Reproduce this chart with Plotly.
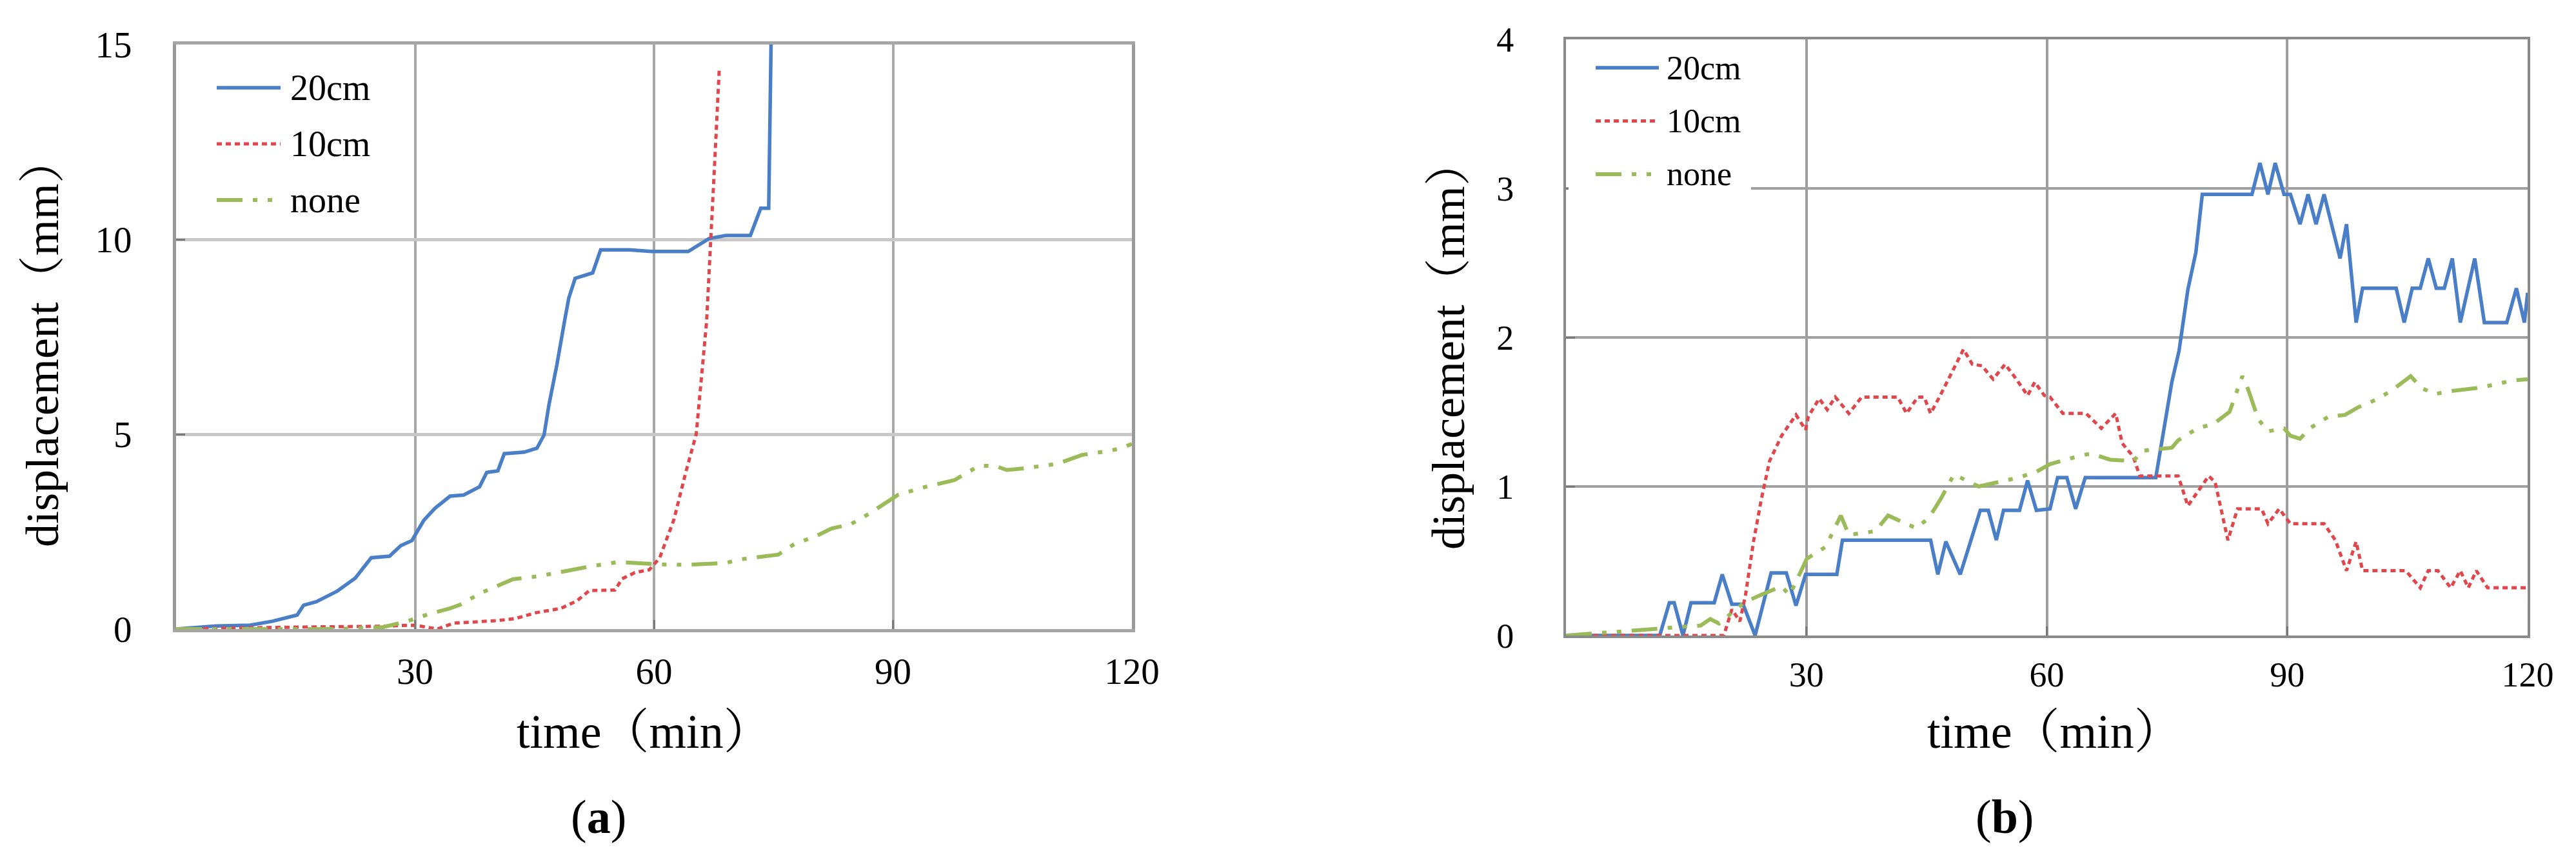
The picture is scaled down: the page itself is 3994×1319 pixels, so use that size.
import plotly.graph_objects as go

# ---------------- data: panel (a) ----------------
t_a_20 = [0, 5, 9.3, 12.1, 15.2, 16.0, 17.6, 20.2, 22.5, 24.5, 26.8, 28.2, 29.6, 31.1, 32.5,
          34.4, 36.1, 38.1, 39.0, 40.4, 41.2, 43.7, 45.3, 46.2, 46.8, 47.8, 48.8, 49.3,
          50.1, 52.3, 53.3, 56.9, 59.7, 64.3, 66.9, 69.0, 72.1, 73.4, 74.4, 74.7, 74.8]
v_a_20 = [0, 0.08, 0.1, 0.2, 0.36, 0.61, 0.7, 0.97, 1.31, 1.83, 1.87, 2.14, 2.27, 2.79, 3.1,
          3.41, 3.44, 3.65, 4.02, 4.06, 4.5, 4.54, 4.64, 4.98, 5.74, 6.77, 7.94, 8.49,
          9.0, 9.14, 9.73, 9.73, 9.69, 9.69, 10.02, 10.1, 10.1, 10.8, 10.8, 15.0, 16.5]

t_a_10 = [0, 8, 15, 25, 30, 32.8, 34.8, 40.5, 42.6, 45.2, 48.3, 50.3, 51.9, 55.1, 56.0,
          57.6, 59.4, 60.7, 62.5, 64.0, 65.3, 66.6, 67.2, 67.7, 68.2]
v_a_10 = [0, 0.03, 0.05, 0.07, 0.1, 0.0, 0.15, 0.22, 0.27, 0.42, 0.53, 0.72, 0.99, 1.0, 1.29,
          1.45, 1.52, 1.82, 2.81, 4.03, 5.0, 7.88, 10.1, 12.3, 14.4]

t_a_none = [0, 20, 26, 29, 31.8, 34.4, 35.7, 38.4, 42.3, 45.3, 49.0, 52.3, 55.5, 60.7, 63.8,
            68.9, 70.9, 75.6, 77.6, 80.3, 82.3, 84.7, 87.0, 90.6, 93.7, 97.7, 100.8,
            102.8, 104.3, 106.7, 110.6, 113.8, 116.5, 118.5, 120]
v_a_none = [0, 0, 0.05, 0.2, 0.39, 0.53, 0.63, 0.94, 1.28, 1.35, 1.49, 1.62, 1.72, 1.66, 1.65,
            1.69, 1.79, 1.91, 2.18, 2.38, 2.58, 2.69, 2.96, 3.44, 3.63, 3.82, 4.19,
            4.19, 4.08, 4.13, 4.24, 4.47, 4.55, 4.63, 4.75]

# ---------------- data: panel (b) ----------------
t_b_20 = [0, 11.7, 12.9, 13.5, 14.6, 15.6, 18.5, 19.5, 20.7, 22.1, 23.6, 25.6, 27.5, 28.7,
          29.9, 33.8, 34.5, 45.5, 46.4, 47.4, 49.2, 51.7, 52.7, 53.7, 54.6, 56.6, 57.6,
          58.7, 60.4, 61.35, 62.5, 63.6, 64.8, 73.6, 75.6, 76.5, 77.6, 78.6, 79.4, 85.6,
          86.6, 87.6, 88.5, 89.6, 90.4, 91.6, 92.6, 93.6, 94.6, 96.6, 97.4, 98.6, 99.4,
          103.6, 104.6, 105.6, 106.6, 107.6, 108.6, 109.6, 110.6, 111.6, 113.4, 114.6,
          117.4, 118.6, 119.6, 120]
v_b_20 = [0, 0, 0.22, 0.22, 0, 0.22, 0.22, 0.41, 0.21, 0.21, 0, 0.42, 0.42, 0.2,
          0.41, 0.41, 0.64, 0.64, 0.41, 0.63, 0.41, 0.84, 0.84, 0.64, 0.84, 0.84, 1.04,
          0.84, 0.85, 1.06, 1.06, 0.85, 1.06, 1.06, 1.70, 1.91, 2.32, 2.57, 2.96, 2.96,
          3.17, 2.96, 3.17, 2.96, 2.96, 2.76, 2.96, 2.76, 2.96, 2.53, 2.76, 2.10, 2.33,
          2.33, 2.10, 2.33, 2.33, 2.53, 2.33, 2.33, 2.53, 2.10, 2.53, 2.10,
          2.10, 2.33, 2.10, 2.30]

t_b_10 = [0, 19.7, 20.7, 21.7, 22.4, 23.4, 24.4, 25.4, 26.9, 28.7, 29.9, 30.25, 31.6, 32.6,
          33.6, 35.3, 36.9, 41.4, 42.5, 43.9, 44.7, 45.5, 46.6, 49.6, 50.7, 51.9, 53.3,
          54.8, 56.2, 57.6, 58.5, 59.7, 60.4, 62.0, 64.9, 66.8, 68.6, 69.4, 70.8, 71.6,
          76.4, 77.6, 80.2, 81.0, 82.6, 83.8, 86.8, 87.6, 89.0, 90.4, 94.6, 96.0, 97.4,
          98.6, 99.4, 104.8, 106.6, 107.6, 108.8, 110.4, 111.6, 112.6, 113.6, 115.0, 120]
v_b_10 = [0, 0, 0.175, 0.095, 0.27, 0.63, 0.92, 1.17, 1.34, 1.48, 1.38, 1.47, 1.59, 1.515,
          1.6, 1.49, 1.6, 1.6, 1.49, 1.6, 1.6, 1.49, 1.6, 1.92, 1.82, 1.81, 1.72,
          1.82, 1.72, 1.61, 1.70, 1.61, 1.60, 1.49, 1.49, 1.39, 1.49, 1.29, 1.20, 1.07,
          1.07, 0.87, 1.07, 1.03, 0.64, 0.85, 0.85, 0.75, 0.85, 0.75, 0.75, 0.64, 0.435,
          0.63, 0.435, 0.435, 0.32, 0.435, 0.435, 0.32, 0.435, 0.32, 0.435, 0.32, 0.32]

t_b_none = [0, 16.8, 18.0, 19.1, 22.2, 24.2, 26.9, 27.9, 30.05, 32.4, 34.3, 35.3, 38.6, 40.2,
            43.7, 45.3, 46.8, 48.4, 49.2, 51.5, 54.0, 56.5, 58.75, 60.4, 64.4, 65.6, 67.9,
            70.8, 71.9, 75.6, 76.4, 78.8, 80.8, 82.8, 84.4, 85.0, 86.4, 87.6, 89.6, 90.4,
            91.6, 92.8, 95.2, 97.2, 98.8, 101.2, 103.2, 105.4, 106.8, 108.4, 110.4, 113.6,
            115.6, 118.0, 120]
v_b_none = [0, 0.067, 0.11, 0.08, 0.22, 0.27, 0.33, 0.27, 0.515, 0.595, 0.805, 0.675, 0.70, 0.805,
            0.72, 0.79, 0.92, 1.08, 1.06, 1.0, 1.03, 1.06, 1.10, 1.15, 1.21, 1.22, 1.18,
            1.17, 1.24, 1.26, 1.31, 1.39, 1.42, 1.50, 1.74, 1.67, 1.45, 1.37, 1.39, 1.34,
            1.32, 1.39, 1.47, 1.48, 1.53, 1.585, 1.65, 1.74, 1.66, 1.62, 1.64, 1.66,
            1.68, 1.71, 1.72]

series_names = ["20cm", "10cm", "none"]
x_ticks = [30, 60, 90, 120]

# ---------------- styles ----------------
FONT = "Liberation Serif, Times New Roman, Noto Serif CJK SC, Noto Sans CJK SC, serif"
BLUE = "#4A7EC6"
RED = "#E0474C"
GREEN = "#9BBB59"
styles = [
    dict(color=BLUE, width=5.5, dash="solid"),
    dict(color=RED, width=5, dash="8px,6px"),
    dict(color=GREEN, width=6, dash="40px,16px,7px,16px,7px,16px"),
]

W, H = 3994, 1319


def px_x(p):
    return p / W


def px_y(p):
    return 1 - p / H


fig = go.Figure()

data_a = [(t_a_20, v_a_20), (t_a_10, v_a_10), (t_a_none, v_a_none)]
data_b = [(t_b_20, v_b_20), (t_b_10, v_b_10), (t_b_none, v_b_none)]

for i, (t, v) in enumerate(data_a):
    fig.add_trace(go.Scatter(x=t, y=v, mode="lines", name=series_names[i],
                             line=styles[i], xaxis="x", yaxis="y", showlegend=False))
for i, (t, v) in enumerate(data_b):
    fig.add_trace(go.Scatter(x=t, y=v, mode="lines", name=series_names[i],
                             line=styles[i], xaxis="x2", yaxis="y2", showlegend=False))

# panel geometry (pixels)
a_left, a_right, a_top, a_bottom = 265, 1747, 61, 967
b_left, b_right, b_top, b_bottom = 2420, 3911, 53, 977

axis_common = dict(showline=True, mirror=True, ticks="inside", ticklen=14, tickwidth=3,
                   zeroline=False, showgrid=True, automargin=False)

fig.update_layout(
    template="none",
    width=W, height=H,
    margin=dict(l=0, r=0, t=0, b=0, pad=0, autoexpand=False),
    paper_bgcolor="white", plot_bgcolor="white",
    font=dict(family=FONT, color="black"),
    showlegend=False,
    xaxis=dict(domain=[px_x(a_left), px_x(a_right)], range=[0, 120],
               tickvals=x_ticks, ticklabelstandoff=12,
               tickfont=dict(family=FONT, size=57, color="black"),
               linecolor="#A6A6A6", linewidth=5, tickcolor="#7A7A7A",
               gridcolor="#A8A8A8", gridwidth=4, anchor="y", **axis_common),
    yaxis=dict(domain=[px_y(a_bottom), px_y(a_top)], range=[0, 15], dtick=5,
               ticklabelstandoff=52,
               tickfont=dict(family=FONT, size=57, color="black"),
               linecolor="#9A9A9A", linewidth=5, tickcolor="#7A7A7A",
               gridcolor="#C8C8C8", gridwidth=5, anchor="x", **axis_common),
    xaxis2=dict(domain=[px_x(b_left), px_x(b_right)], range=[0, 120],
                tickvals=x_ticks, ticklabelstandoff=10,
                tickfont=dict(family=FONT, size=54, color="black"),
                linecolor="#8A8A8A", linewidth=4, tickcolor="#7A7A7A",
                gridcolor="#9E9E9E", gridwidth=4, anchor="y2", **axis_common),
    yaxis2=dict(domain=[px_y(b_bottom), px_y(b_top)], range=[0, 4], dtick=1,
                ticklabelstandoff=66,
                tickfont=dict(family=FONT, size=54, color="black"),
                linecolor="#8A8A8A", linewidth=4, tickcolor="#7A7A7A",
                gridcolor="#A0A0A0", gridwidth=4, anchor="x2", **axis_common),
)

# ---------------- legends (drawn in-plot, as in the original) ----------------
legends = [
    # (line x0, line x1, text x, first row y, row pitch, font size)
    (328, 427, 440, 128, 87, 56),
    (2466, 2564, 2574, 97, 82.5, 52),
]

# white backdrop of legend (b), hiding the y=3 gridline like the original
fig.add_shape(type="rect", xref="paper", yref="paper", layer="above",
              x0=px_x(b_left + 4), x1=px_x(2707), y0=px_y(300), y1=px_y(62),
              fillcolor="white", line=dict(width=0))

for (lx0, lx1, tx, row0, pitch, fs) in legends:
    for i, name in enumerate(series_names):
        yy = row0 + i * pitch
        fig.add_shape(type="line", xref="paper", yref="paper", layer="above",
                      x0=px_x(lx0), x1=px_x(lx1), y0=px_y(yy), y1=px_y(yy),
                      line=styles[i])
        fig.add_annotation(text=name, x=px_x(tx), y=px_y(yy), xref="paper", yref="paper",
                           xanchor="left", yanchor="middle", showarrow=False,
                           font=dict(family=FONT, size=fs, color="black"))

ann = [
    dict(text="displacement（mm）", x=px_x(58), y=px_y(522), textangle=-90, size=72),
    dict(text="time（min）", x=px_x(990), y=px_y(1126), textangle=0, size=74),
    dict(text="(<b>a</b>)", x=px_x(920), y=px_y(1258), textangle=0, size=74),
    dict(text="displacement（mm）", x=px_x(2238), y=px_y(526), textangle=-90, size=72),
    dict(text="time（min）", x=px_x(3177), y=px_y(1126), textangle=0, size=74),
    dict(text="(<b>b</b>)", x=px_x(3100), y=px_y(1258), textangle=0, size=74),
]
for a in ann:
    fig.add_annotation(text=a["text"], x=a["x"], y=a["y"], xref="paper", yref="paper",
                       xanchor="center", yanchor="middle", showarrow=False,
                       textangle=a["textangle"],
                       font=dict(family=FONT, size=a["size"], color="black"))

fig.write_html("out.html")
